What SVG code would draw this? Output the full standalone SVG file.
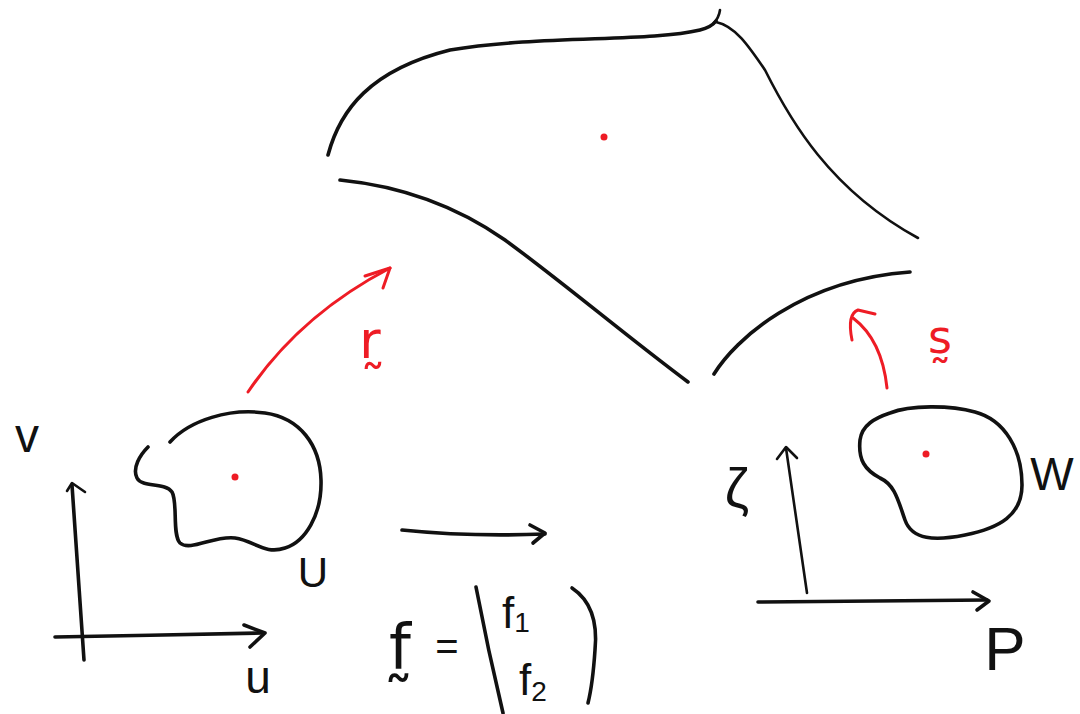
<svg xmlns="http://www.w3.org/2000/svg" width="1080" height="714" viewBox="0 0 1080 714">
<style>
.ink{fill:none;stroke:#111;stroke-width:3.6;stroke-linecap:round;stroke-linejoin:round}
.thin{fill:none;stroke:#111;stroke-width:2.6;stroke-linecap:round;stroke-linejoin:round}
.red{fill:none;stroke:#ee1c25;stroke-width:3;stroke-linecap:round;stroke-linejoin:round}
.dot{fill:#ee1c25}
.t{font-family:"Liberation Sans","DejaVu Sans",sans-serif;fill:#111;text-anchor:middle}
.v{font-family:"DejaVu Sans",sans-serif;text-anchor:middle}
</style>
<rect width="1080" height="714" fill="#fff"/>

<g id="surface">
<path class="ink" d="M328,155 C340,110 370,70 450,50 C540,35 650,42 700,30 C708,28 713,25 716,21"/>
<path class="thin" d="M713,24 Q719,18 720,10"/>
<path class="thin" d="M716,22 C735,26 748,45 765,70 C790,120 830,190 918,238"/>
<path class="ink" d="M340,180 C400,186 455,205 505,240 C560,280 625,335 688,382"/>
<path class="ink" d="M714,374 C735,340 800,280 910,272"/>
<circle class="dot" cx="604" cy="137" r="3.5"/>
</g>

<g id="uv-axes">
<path class="ink" d="M72,485 L84,660"/>
<path class="thin" d="M67,491 L72,483 L85,492"/>
<path class="ink" d="M55,637 C120,636 200,634 262,633"/>
<path class="ink" d="M244,625 L265,633 L250,647"/>
<text class="t" x="27" y="452" font-size="48">v</text>
<text class="t" x="258" y="693" font-size="46">u</text>
</g>

<g id="region-U">
<path class="ink" d="M148,447 C140,455 132,468 137,478 C142,488 165,482 172,492 C178,502 172,535 180,543 C190,552 215,535 235,538 C255,541 265,555 285,548 C305,542 322,515 321,480 C320,445 300,418 265,413 C230,408 190,420 170,442"/>
<circle class="dot" cx="235" cy="477" r="3.5"/>
<text class="t" x="313" y="587" font-size="42">U</text>
</g>

<g id="pq-axes">
<path class="thin" d="M786,448 L807,593"/>
<path class="thin" d="M777,459 L786,447 L797,458"/>
<path class="ink" d="M758,602 L987,600"/>
<path class="ink" d="M973,592 L989,601 L977,610"/>
<text class="t" x="737" y="507" font-size="55">ζ</text>
<text class="t" x="1005" y="670" font-size="62">P</text>
</g>

<g id="region-W">
<path class="ink" d="M890,413 C910,405 950,405 975,412 C1005,420 1022,450 1022,485 C1022,515 1000,528 965,535 C935,541 912,540 905,520 C898,500 895,485 880,478 C865,470 858,460 860,440 C862,425 875,418 890,413 Z"/>
<circle class="dot" cx="926" cy="454" r="3.5"/>
<text class="t" x="1052" y="490" font-size="46">W</text>
</g>

<g id="formula">
<text class="v" x="400" y="668" font-size="62" fill="#111">f̰</text>
<text class="t" x="447" y="660" font-size="40">=</text>
<path class="ink" d="M476,587 Q488,650 503,713"/>
<text class="t" x="516" y="628" font-size="44">f<tspan font-size="28" dy="4">1</tspan></text>
<text class="t" x="533" y="695" font-size="44">f<tspan font-size="28" dy="6">2</tspan></text>
<path class="ink" d="M572,588 C590,600 598,620 595,650 C593,680 590,695 588,703"/>
</g>

<g id="labels-maps">
<text class="v" x="370" y="358" font-size="52" fill="#ee1c25">r̰</text>
<text class="v" x="940" y="353" font-size="46" fill="#ee1c25">s̰</text>
</g>

<g id="connectors">
<path class="ink" d="M402,530 Q470,537 545,534"/>
<path class="ink" d="M530,525 L545,533 L533,543"/>
<path class="red" d="M248,392 Q300,315 390,268"/>
<path class="red" d="M365,276 L390,268 L383,288"/>
<path class="red" d="M887,388 Q882,340 853,318"/>
<path class="red" d="M852,340 C849,325 850,313 858,310 L875,314"/>
</g>
</svg>
